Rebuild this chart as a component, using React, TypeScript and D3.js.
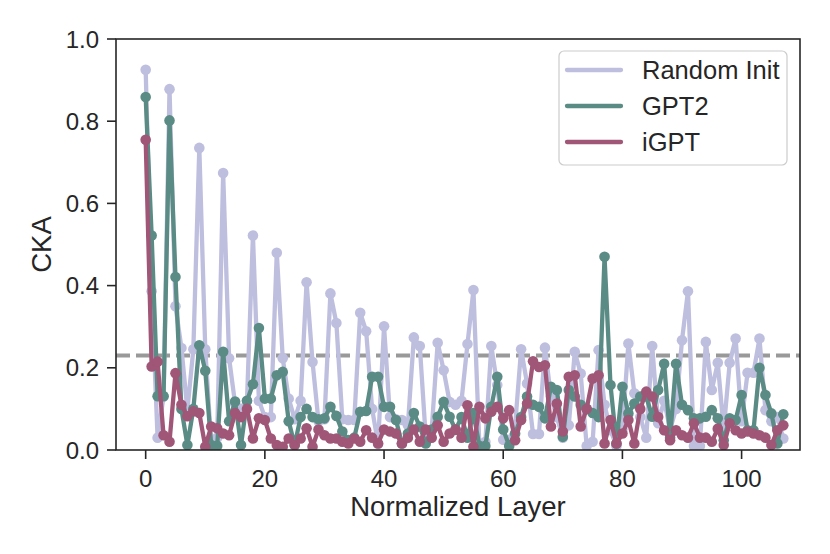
import React from "react";
import * as d3 from "d3";

const randomInit: number[] = [
  0.925, 0.386, 0.03, 0.13, 0.878, 0.35, 0.248, 0.097, 0.245, 0.735,
  0.245, 0.015, 0.03, 0.674, 0.223, 0.113, 0.1, 0.12, 0.522, 0.12,
  0.08, 0.08, 0.48, 0.223, 0.125, 0.075, 0.12, 0.408, 0.214, 0.07,
  0.075, 0.381, 0.309, 0.075, 0.073, 0.073, 0.334, 0.289, 0.1, 0.015,
  0.301, 0.08, 0.075, 0.073, 0.06, 0.274, 0.253, 0.03, 0.05, 0.261,
  0.194, 0.117, 0.11, 0.12, 0.258, 0.389, 0.01, 0.02, 0.253, 0.158,
  0.025, 0.025, 0.06, 0.245, 0.162, 0.039, 0.039, 0.249, 0.13, 0.08,
  0.03, 0.06, 0.239, 0.186, 0.01, 0.02, 0.243, 0.11, 0.048, 0.01,
  0.05, 0.259, 0.138, 0.08, 0.03, 0.253, 0.065, 0.12, 0.05, 0.1,
  0.267, 0.386, 0.01, 0.01, 0.263, 0.146, 0.212, 0.05, 0.212, 0.271,
  0.07, 0.188, 0.188, 0.271, 0.097, 0.07, 0.08, 0.028,
];

const gpt2: number[] = [
  0.859, 0.522, 0.131, 0.131, 0.802, 0.421, 0.1, 0.012, 0.1, 0.255,
  0.193, 0.012, 0.01, 0.239, 0.07, 0.118, 0.012, 0.12, 0.16, 0.297,
  0.125, 0.125, 0.182, 0.19, 0.07, 0.012, 0.08, 0.1, 0.08, 0.075,
  0.077, 0.105, 0.083, 0.045, 0.024, 0.03, 0.093, 0.095, 0.178, 0.178,
  0.105, 0.105, 0.073, 0.016, 0.04, 0.09, 0.057, 0.016, 0.05, 0.081,
  0.117, 0.081, 0.049, 0.08, 0.03, 0.09, 0.01, 0.01, 0.105, 0.178,
  0.05, 0.01, 0.04, 0.08, 0.13, 0.11, 0.105, 0.077, 0.154, 0.146,
  0.032, 0.146, 0.13, 0.11, 0.1, 0.09, 0.08, 0.47, 0.158, 0.016,
  0.154, 0.089, 0.113, 0.13, 0.13, 0.081, 0.146, 0.21, 0.03, 0.21,
  0.11, 0.097, 0.077, 0.077, 0.081, 0.097, 0.077, 0.024, 0.077, 0.073,
  0.134, 0.048, 0.048, 0.2, 0.134, 0.089, 0.016, 0.087,
];

const igpt: number[] = [
  0.755, 0.203, 0.215, 0.036, 0.02, 0.187, 0.11, 0.082, 0.094, 0.09,
  0.008, 0.057, 0.053, 0.04, 0.036, 0.09, 0.08, 0.1, 0.028, 0.077,
  0.073, 0.028, 0.012, 0.008, 0.028, 0.012, 0.028, 0.053, 0.008, 0.05,
  0.036, 0.028, 0.028, 0.02, 0.016, 0.028, 0.02, 0.048, 0.03, 0.016,
  0.05, 0.045, 0.04, 0.016, 0.03, 0.05, 0.02, 0.05, 0.03, 0.06,
  0.02, 0.04, 0.05, 0.03, 0.109, 0.008, 0.105, 0.077, 0.093, 0.105,
  0.077, 0.097, 0.024, 0.073, 0.113, 0.216, 0.202, 0.206, 0.057, 0.113,
  0.045, 0.178, 0.182, 0.057, 0.1, 0.174, 0.182, 0.016, 0.073, 0.016,
  0.04, 0.073, 0.016, 0.1, 0.142, 0.13, 0.08, 0.048, 0.024, 0.048,
  0.036, 0.03, 0.065, 0.03, 0.03, 0.02, 0.052, 0.012, 0.065, 0.048,
  0.04, 0.045, 0.04, 0.036, 0.03, 0.012, 0.048, 0.06,
];

const seriesNames = ["Random Init", "GPT2", "iGPT"];
const seriesColors = ["#bebedf", "#5b8b85", "#a05677"];
const xTicks = [0, 20, 40, 60, 80, 100];
const yTicks = [0.0, 0.2, 0.4, 0.6, 0.8, 1.0];
const threshold = 0.23;

const W = 830;
const H = 554;
const M = { left: 116, right: 800, top: 39, bottom: 450 };
const FONT = "'Liberation Sans', Arial, Helvetica, sans-serif";
const INK = "#262626";

export default function App() {
  const x = d3.scaleLinear().domain([-4.98, 109.8]).range([M.left, M.right]);
  const y = d3.scaleLinear().domain([0, 1]).range([M.bottom, M.top]);
  const all = [randomInit, gpt2, igpt];
  const line = d3
    .line<number>()
    .x((_, i) => x(i))
    .y((d) => y(d));

  return (
    <div style={{ position: "absolute", left: 0, top: 0 }}>
      <svg width={W} height={H} style={{ display: "block", background: "#fff" }}>
        <defs>
          <clipPath id="plot">
            <rect x={M.left} y={M.top} width={M.right - M.left} height={M.bottom - M.top} />
          </clipPath>
        </defs>
        <g clipPath="url(#plot)">
          <line
            x1={M.left}
            x2={M.right}
            y1={y(threshold)}
            y2={y(threshold)}
            stroke="#999999"
            strokeWidth={4}
            strokeDasharray="14,6"
          />
          {all.map((s, k) => (
            <g key={seriesNames[k]}>
              <path d={line(s) || ""} fill="none" stroke={seriesColors[k]} strokeWidth={4.3} strokeLinejoin="round" />
              {s.map((d, i) => (
                <circle key={i} cx={x(i)} cy={y(d)} r={5.3} fill={seriesColors[k]} />
              ))}
            </g>
          ))}
        </g>
        <rect
          x={M.left}
          y={M.top}
          width={M.right - M.left}
          height={M.bottom - M.top}
          fill="none"
          stroke={INK}
          strokeWidth={1.6}
        />
        {xTicks.map((t) => (
          <g key={"x" + t}>
            <line x1={x(t)} x2={x(t)} y1={M.bottom} y2={M.bottom + 9} stroke={INK} strokeWidth={1.6} />
            <text x={x(t)} y={487} textAnchor="middle" fontFamily={FONT} fontSize={24} fill={INK}>
              {t}
            </text>
          </g>
        ))}
        {yTicks.map((t) => (
          <g key={"y" + t}>
            <line x1={M.left - 9} x2={M.left} y1={y(t)} y2={y(t)} stroke={INK} strokeWidth={1.6} />
            <text
              x={99}
              y={y(t)}
              dy="0.36em"
              textAnchor="end"
              fontFamily={FONT}
              fontSize={24}
              fill={INK}
            >
              {t.toFixed(1)}
            </text>
          </g>
        ))}
        <text x={(M.left + M.right) / 2} y={516} textAnchor="middle" fontFamily={FONT} fontSize={27.5} fill={INK}>
          Normalized Layer
        </text>
        <text
          transform={`translate(51,${(M.top + M.bottom) / 2}) rotate(-90)`}
          textAnchor="middle"
          fontFamily={FONT}
          fontSize={27.5}
          fill={INK}
        >
          CKA
        </text>
        <rect x={559} y={51} width={228} height={114} rx={5} fill="#ffffff" fillOpacity={0.8} stroke="#cccccc" strokeWidth={1.2} />
        {seriesNames.map((n, k) => (
          <g key={"lg" + n}>
            <line
              x1={567}
              x2={621}
              y1={70 + k * 36}
              y2={70 + k * 36}
              stroke={seriesColors[k]}
              strokeWidth={4.3}
              strokeLinecap="round"
            />
            <text x={642} y={70 + k * 36} dy="0.36em" fontFamily={FONT} fontSize={25.5} fill={INK}>
              {n}
            </text>
          </g>
        ))}
      </svg>
    </div>
  );
}
